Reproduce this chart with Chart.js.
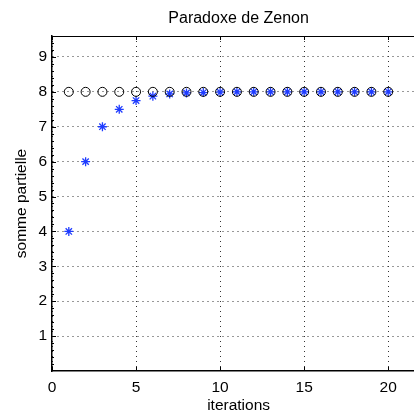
<!DOCTYPE html>
<html>
<head>
<meta charset="utf-8">
<script src="https://cdn.jsdelivr.net/npm/chart.js@4.4.0/dist/chart.umd.min.js"></script>
<style>
  html, body { margin: 0; padding: 0; background: #fff; overflow: hidden; width: 414px; height: 412px; }
  #wrap { width: 431px; height: 412px; position: relative; }
</style>
</head>
<body>
<div id="wrap"><canvas id="zenon"></canvas></div>
<script>
// Data
const ITERATIONS = [1, 2, 3, 4, 5, 6, 7, 8, 9, 10, 11, 12, 13, 14, 15, 16, 17, 18, 19, 20];
const LIMIT = [8, 8, 8, 8, 8, 8, 8, 8, 8, 8, 8, 8, 8, 8, 8, 8, 8, 8, 8, 8];
const PARTIAL = [4, 6, 7, 7.5, 7.75, 7.875, 7.94, 7.97, 7.98, 7.99, 8, 8, 8, 8, 8, 8, 8, 8, 8, 8];
const X_TICKS = [0, 5, 10, 15, 20];
const Y_TICKS = [1, 2, 3, 4, 5, 6, 7, 8, 9];

const FONT = 'Helvetica, "Liberation Sans", Arial, sans-serif';

// MATLAB-like box: top border plus inward tick marks
const boxPlugin = {
    id: 'box',
    afterDraw(chart) {
        const { ctx, chartArea: a, scales } = chart;
        ctx.save();
        ctx.strokeStyle = '#000';
        ctx.lineWidth = 1;
        ctx.beginPath();
        ctx.moveTo(a.left, a.top + 0.5);
        ctx.lineTo(a.right, a.top + 0.5);
        // major x ticks (bottom + top)
        X_TICKS.forEach(v => {
            const px = Math.round(scales.x.getPixelForValue(v)) + 0.5;
            ctx.moveTo(px, a.bottom); ctx.lineTo(px, a.bottom - 4);
            ctx.moveTo(px, a.top); ctx.lineTo(px, a.top + 4);
        });
        // y ticks, major and minor
        for (let v = 0.2; v < 9.6; v += 0.2) {
            const py = Math.round(scales.y.getPixelForValue(v)) + 0.5;
            const major = Math.abs(v - Math.round(v)) < 0.01;
            ctx.moveTo(a.left, py); ctx.lineTo(a.left + (major ? 4 : 2), py);
        }
        ctx.stroke();
        ctx.restore();
    }
};

function init() {
    const ctx = document.getElementById('zenon').getContext('2d');
    new Chart(ctx, {
        type: 'scatter',
        data: {
            datasets: [
                {
                    label: 'limite',
                    data: ITERATIONS.map((x, i) => ({ x, y: LIMIT[i] })),
                    pointStyle: 'circle',
                    pointRadius: 4.5,
                    pointBorderColor: '#000',
                    pointBackgroundColor: 'rgba(0,0,0,0)',
                    pointBorderWidth: 1
                },
                {
                    label: 'somme partielle',
                    data: ITERATIONS.map((x, i) => ({ x, y: PARTIAL[i] })),
                    pointStyle: 'star',
                    pointRadius: 4.5,
                    pointBorderColor: '#1f3cff',
                    pointBackgroundColor: '#1f3cff',
                    pointBorderWidth: 1.3
                }
            ]
        },
        options: {
            responsive: true,
            maintainAspectRatio: false,
            animation: false,
            layout: { padding: { left: 14, right: 0, top: 0, bottom: 0 } },
            plugins: {
                legend: { display: false },
                tooltip: { enabled: false },
                title: {
                    display: true,
                    fullSize: false,
                    text: 'Paradoxe de Zenon',
                    color: '#000',
                    font: { family: FONT, size: 16, weight: 'normal', lineHeight: 1.2 },
                    padding: { top: 9, bottom: 7.8 }
                }
            },
            scales: {
                x: {
                    type: 'linear',
                    min: 0,
                    max: 22.2,
                    afterBuildTicks: s => { s.ticks = X_TICKS.map(v => ({ value: v })); },
                    afterFit: s => { s.height = 41; s.paddingLeft = 0; s.paddingRight = 0; },
                    ticks: { color: '#000', font: { family: FONT, size: 15.5 }, padding: 7 },
                    grid: { color: '#333', lineWidth: 1, drawTicks: false },
                    border: { color: '#000', width: 1.5, dash: [1, 4] },
                    title: {
                        display: true, text: 'iterations', color: '#000',
                        font: { family: FONT, size: 15.5, lineHeight: 0.8 }, padding: { top: 0, bottom: 0 }
                    }
                },
                y: {
                    type: 'linear',
                    min: 0,
                    max: 9.6,
                    afterBuildTicks: s => { s.ticks = Y_TICKS.map(v => ({ value: v })); },
                    afterFit: s => { s.width = 38; s.paddingTop = 0; s.paddingBottom = 0; },
                    ticks: { color: '#000', font: { family: FONT, size: 15.5 }, padding: 5 },
                    grid: { color: '#333', lineWidth: 1, drawTicks: false },
                    border: { color: '#000', width: 1.5, dash: [1, 4] },
                    title: {
                        display: true, text: 'somme partielle', color: '#000',
                        font: { family: FONT, size: 15.5, lineHeight: 1.0 }, padding: { top: 0, bottom: 0 }
                    }
                }
            }
        },
        plugins: [boxPlugin]
    });
}

document.addEventListener('DOMContentLoaded', init);
</script>
</body>
</html>
